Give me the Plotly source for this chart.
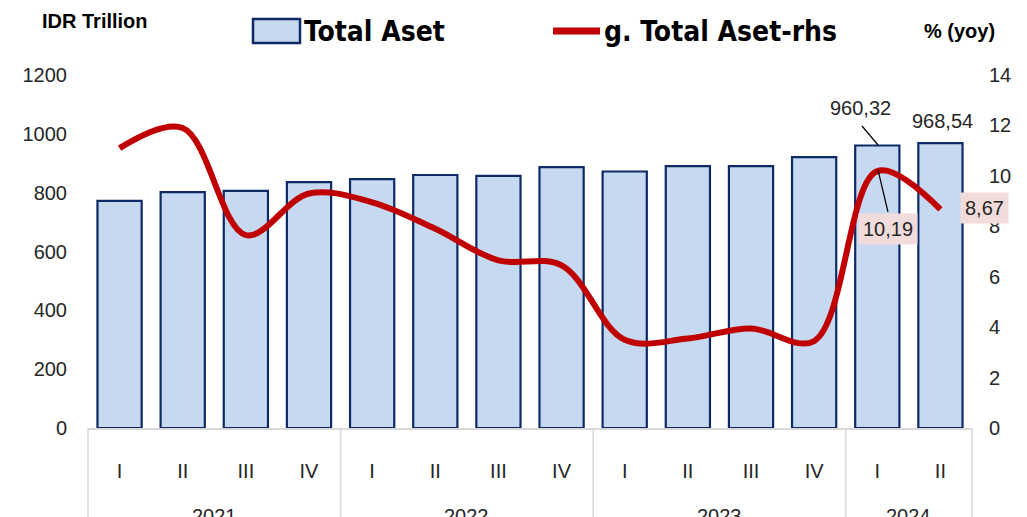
import plotly.graph_objects as go

years = ["2021"] * 4 + ["2022"] * 4 + ["2023"] * 4 + ["2024"] * 2
quarters = ["I", "II", "III", "IV"] * 3 + ["I", "II"]
year_labels = ["2021", "2022", "2023", "2024"]
total_aset = [772, 802, 806, 836, 846, 860, 857, 887, 872, 890, 890, 921, 960.32, 968.54]
growth = [11.1, 11.9, 7.65, 9.3, 8.95, 7.9, 6.65, 6.45, 3.5, 3.55, 3.95, 3.45, 10.19, 8.67]

categories = [f"{y} {q}" for y, q in zip(years, quarters)]

FONT = "Liberation Sans"
OFF = 8  # page body margin
# plot area in screenshot pixels
L, R, T, B = 88, 972, 75, 428
W, H = 1027 - OFF, 517 - OFF


def px(x):
    return (x - L) / (R - L)


def py(y):
    return (B - y) / (B - T)


fig = go.Figure()
fig.add_trace(go.Bar(
    x=categories, y=total_aset, name="Total Aset",
    marker=dict(color="#c6d9f0", line=dict(color="#0d2a66", width=2.2)),
    yaxis="y",
))
fig.add_trace(go.Scatter(
    x=categories, y=growth, name="g. Total Aset-rhs",
    mode="lines", line=dict(color="#c00000", width=6, shape="spline", smoothing=1.0),
    yaxis="y2",
))

fig.update_layout(
    width=W, height=H,
    margin=dict(l=L - OFF, r=W - (R - OFF), t=T - OFF, b=H - (B - OFF)),
    plot_bgcolor="white", paper_bgcolor="white",
    showlegend=False, bargap=0.30,
    font=dict(family=FONT, size=20, color="#262626"),
    xaxis=dict(
        type="category", showline=True, linecolor="#d9d9d9", linewidth=1.5,
        tickvals=categories, ticktext=quarters, ticks="",
        tickfont=dict(family=FONT, size=20, color="#262626"), ticklabelstandoff=24,
        range=[-0.5, len(categories) - 0.5],
    ),
    yaxis=dict(
        range=[0, 1200], dtick=200, showgrid=False, zeroline=False,
        tickfont=dict(family=FONT, size=20, color="#262626"), ticklabelstandoff=20,
    ),
    yaxis2=dict(
        range=[0, 14], dtick=2, overlaying="y", side="right", showgrid=False,
        zeroline=False, tickfont=dict(family=FONT, size=20, color="#262626"),
        ticklabelstandoff=16,
    ),
)

shapes = [
    dict(type="rect", xref="paper", yref="paper", x0=px(253), x1=px(300), y0=py(43), y1=py(19),
         fillcolor="#c6d9f0", line=dict(color="#0d2a66", width=2.5)),
    dict(type="line", xref="paper", yref="paper", x0=px(553), x1=px(600), y0=py(31), y1=py(31),
         line=dict(color="#c00000", width=7)),
    # leader lines
    dict(type="line", xref="paper", yref="paper", x0=px(862), x1=px(878), y0=py(126), y1=py(145),
         line=dict(color="black", width=1.2)),
    dict(type="line", xref="paper", yref="paper", x0=px(878), x1=px(888), y0=py(170), y1=py(212),
         line=dict(color="black", width=1.2)),
]
# year divider lines below the axis
ncat = len(categories)
bounds = [0]
for i in range(1, ncat):
    if years[i] != years[i - 1]:
        bounds.append(i)
bounds.append(ncat)
for b in bounds:
    shapes.append(dict(type="line", xref="paper", yref="paper", x0=b / ncat, x1=b / ncat,
                       y0=0, y1=py(530), line=dict(color="#d9d9d9", width=1.5)))
fig.update_layout(shapes=shapes)

ann = []


def text(x, y, s, size=20, bold=False, family=FONT, xanchor="center", color="black", **kw):
    ann.append(dict(xref="paper", yref="paper", x=px(x), y=py(y), text=s, showarrow=False,
                    xanchor=xanchor, yanchor="middle",
                    font=dict(family=family, size=size, color=color,
                              weight="bold" if bold else "normal"), **kw))


text(40, 21, "IDR Trillion", size=20, bold=True, xanchor="left")
text(997, 31, "% (yoy)", size=20, bold=True, xanchor="right")
text(302, 31, "Total Aset", size=28, bold=True, family="DejaVu Sans Condensed", xanchor="left")
text(602, 31, "g. Total Aset-rhs", size=28, bold=True, family="DejaVu Sans Condensed", xanchor="left")
text(860, 108, "960,32", size=20, color="#262626")
text(942, 121, "968,54", size=20, color="#262626")
text(888, 229, "10,19", size=20, color="#262626", bgcolor="#f2dcdb", borderpad=4)
text(984, 208, "8,67", size=20, color="#262626", bgcolor="#f2dcdb", borderpad=4)

# year labels centred under their quarters
for k, yl in enumerate(year_labels):
    a, b = bounds[k], bounds[k + 1]
    ann.append(dict(xref="paper", yref="paper", x=(a + b) / 2 / ncat, y=py(516), text=yl,
                    showarrow=False, xanchor="center", yanchor="middle",
                    font=dict(family=FONT, size=20, color="#262626")))
fig.update_layout(annotations=ann)

fig.write_html("out.html")
